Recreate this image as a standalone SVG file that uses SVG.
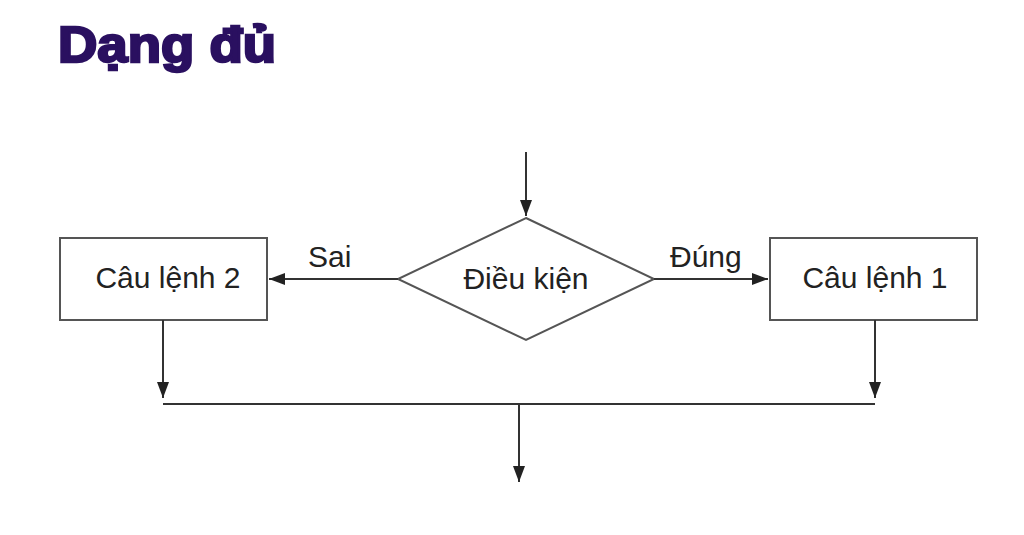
<svg xmlns="http://www.w3.org/2000/svg" width="1024" height="535" viewBox="0 0 1024 535">
<defs>
<style>
.n{fill:#fff;stroke:#555;stroke-width:2}
.t{font-family:"Liberation Sans",Arial,sans-serif;font-size:30px;fill:#222}
.c{stroke:#333;stroke-width:2;fill:none}
</style>
<marker id="a" viewBox="0 0 10 10" refX="10" refY="5" markerWidth="16" markerHeight="12" markerUnits="userSpaceOnUse" orient="auto" preserveAspectRatio="none"><path d="M0,0L10,5L0,10z" fill="#222"/></marker>
</defs>
<rect width="1024" height="535" fill="#fff"/>
<text x="58" y="62" font-family="Liberation Sans,Arial,sans-serif" font-weight="bold" font-size="50" fill="#2a1060" stroke="#2a1060" stroke-width="2.5" textLength="218" lengthAdjust="spacingAndGlyphs">Dạng đủ</text>
<g id="cond"><polygon class="n" points="526,218 654,279 526,340 398,279"/><text class="t" x="526" y="289" text-anchor="middle">Điều kiện</text></g>
<g id="s2"><rect class="n" x="60" y="238" width="207" height="82"/><text class="t" x="168" y="288" text-anchor="middle">Câu lệnh 2</text></g>
<g id="s1"><rect class="n" x="770" y="238" width="207" height="82"/><text class="t" x="875" y="288" text-anchor="middle">Câu lệnh 1</text></g>
<g id="connectors">
<path class="c" d="M526,152V216" marker-end="url(#a)"/>
<path class="c" d="M398,279H269" marker-end="url(#a)"/>
<path class="c" d="M654,279H768" marker-end="url(#a)"/>
<path class="c" d="M163,320V398" marker-end="url(#a)"/>
<path class="c" d="M875,320V398" marker-end="url(#a)"/>
<path class="c" d="M163,404H875"/>
<path class="c" d="M519,404V482" marker-end="url(#a)"/>
<text class="t" x="308" y="267">Sai</text>
<text class="t" x="670" y="267">Đúng</text>
</g>
</svg>
